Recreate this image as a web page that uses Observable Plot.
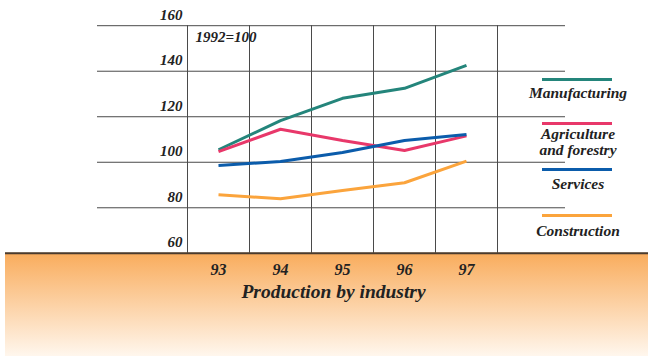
<!DOCTYPE html>
<html>
<head>
<meta charset="utf-8">
<script src="https://cdn.jsdelivr.net/npm/d3@7"></script>
<script src="https://cdn.jsdelivr.net/npm/@observablehq/plot@0.6"></script>
<style>
  html, body { margin: 0; padding: 0; background: #fff; }
  #chart { position: relative; width: 648px; height: 356px; overflow: hidden; }
  #chart svg { display: block; }
  .lg { position: absolute; font-family: "Liberation Serif", serif; font-style: italic; font-weight: bold;
        font-size: 15.5px; color: #222; text-align: center; line-height: 16px; width: 130px; }
  .lgline { position: absolute; height: 3px; width: 70px; }
</style>
</head>
<body>
<div id="chart"></div>
<script>
// ---- data ----
const years = [93, 94, 95, 96, 97];
const manufacturing = [105.5, 118.3, 128.1, 132.5, 142.6];
const agriculture   = [104.7, 114.5, 109.6, 105.2, 111.6];
const services      = [98.6, 100.3, 104.3, 109.6, 112.2];
const construction  = [85.7, 84.0, 87.6, 91.0, 100.5];
const seriesNames  = ["Manufacturing", "Agriculture\nand forestry", "Services", "Construction"];
const seriesColors = ["#24857b", "#e8386a", "#0b5cab", "#fba43c"];
const yTicks = [60, 80, 100, 120, 140, 160];
const xTickLabels = ["93", "94", "95", "96", "97"];
const baseLabel = "1992=100";
const xTitle = "Production by industry";

// ---- layout ----
const W = 648, H = 356;
const frameL = 187, frameR = 497, frameT = 25.2, frameB = 252.8;
const pxPerX = (frameR - frameL) / 5;
const pxPerY = (frameB - frameT) / 100;
const font = '"Liberation Serif", serif';

const allSeries = [manufacturing, agriculture, services, construction];
const rows = [];
allSeries.forEach((vals, s) => vals.forEach((v, i) => rows.push({series: seriesNames[s], year: years[i], value: v})));

// pixel -> data helpers for elements drawn outside the frame
const xAt = px => 92.5 + (px - frameL) / pxPerX;
const yAt = px => 60 - (px - frameB) / pxPerY;

const defs = () => {
  const d = d3.create("svg:defs");
  const g = d.append("linearGradient").attr("id", "bg").attr("x1", 0).attr("y1", 0).attr("x2", 0).attr("y2", 1);
  g.append("stop").attr("offset", "0%").attr("stop-color", "#f9ac5c");
  g.append("stop").attr("offset", "100%").attr("stop-color", "#fff8f0");
  return d.node();
};

const plot = Plot.plot({
  width: W, height: H,
  marginLeft: frameL, marginRight: W - frameR, marginTop: frameT, marginBottom: H - frameB,
  x: {type: "linear", domain: [92.5, 97.5], axis: null},
  y: {type: "linear", domain: [60, 160], axis: null},
  style: {fontFamily: font, background: "transparent"},
  marks: [
    defs,
    Plot.rect([0], {x1: xAt(5), x2: xAt(W + 2), y1: yAt(H + 2), y2: 60, fill: "url(#bg)"}),
    Plot.ruleY(yTicks.filter(t => t > 60), {x1: xAt(97), x2: xAt(565), stroke: "#4a4a4a", strokeWidth: 1}),
    Plot.ruleX(d3.range(92.5, 98, 1), {y1: 60, y2: 160, stroke: "#4a4a4a", strokeWidth: 1}),
    Plot.ruleY([60], {x1: xAt(5), x2: xAt(W + 2), stroke: "#4a3b2e", strokeWidth: 2}),
    Plot.text(yTicks, {x: xAt(182), y: d => d, text: d => String(d), textAnchor: "end", dy: -11,
      fontSize: 15, fontStyle: "italic", fontWeight: "bold", fill: "#222"}),
    Plot.text(years, {x: d => d, y: yAt(269), text: (d, i) => xTickLabels[i], fontSize: 16,
      fontStyle: "italic", fontWeight: "bold", fill: "#222"}),
    Plot.text([xTitle], {x: xAt(333), y: yAt(291), text: d => d, fontSize: 19.5,
      fontStyle: "italic", fontWeight: "bold", fill: "#222"}),
    Plot.text([baseLabel], {x: xAt(195), y: yAt(37), text: d => d, textAnchor: "start", fontSize: 15,
      fontStyle: "italic", fontWeight: "600", fill: "#222"}),
    Plot.line(rows, {x: "year", y: "value", z: "series", stroke: d => seriesColors[seriesNames.indexOf(d.series)],
      strokeWidth: 3, strokeLinejoin: "miter", strokeLinecap: "butt"})
  ]
});

const chart = document.getElementById("chart");
chart.appendChild(plot);

const legendLineY = [79.3, 123.5, 169, 215.7];
const legendTextY = [85, 126, 176, 223];
seriesNames.forEach((name, i) => {
  const ln = document.createElement("div");
  ln.className = "lgline";
  ln.style.left = "542px"; ln.style.top = (legendLineY[i] - 1.5) + "px";
  ln.style.background = seriesColors[i];
  chart.appendChild(ln);
  const t = document.createElement("div");
  t.className = "lg";
  t.style.left = (578 - 65) + "px"; t.style.top = legendTextY[i] + "px";
  t.innerHTML = name.split("\n").join("<br>");
  chart.appendChild(t);
});
</script>
</body>
</html>
